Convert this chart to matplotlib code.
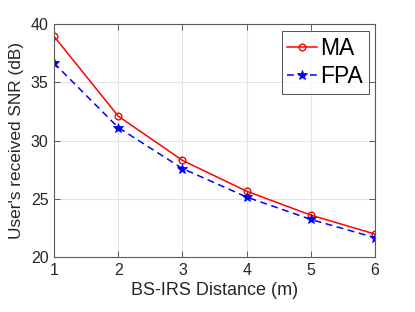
import matplotlib.pyplot as plt

# --- data ---
distance = [1, 2, 3, 4, 5, 6]
snr_ma = [38.95, 32.1, 28.3, 25.65, 23.6, 21.97]
snr_fpa = [36.65, 31.12, 27.6, 25.15, 23.23, 21.66]
xticks = [1, 2, 3, 4, 5, 6]
yticks = [20, 25, 30, 35, 40]

plt.rcParams['font.family'] = ['Liberation Sans', 'DejaVu Sans']

fig = plt.figure(figsize=(4.15, 3.12), dpi=100)
ax = fig.add_axes([0.130, 0.176, 0.774, 0.747])

ax.plot(distance, snr_ma, color='red', linestyle='-', linewidth=1.1,
        marker='o', markersize=4.8, markerfacecolor='none', markeredgewidth=1.0,
        label='MA')
ax.plot(distance, snr_fpa, color='blue', linestyle=(0, (4.5, 3)), linewidth=1.1,
        marker='*', markersize=7.5, markerfacecolor='blue', markeredgewidth=0.6,
        label='FPA')

ax.set_xlim(1, 6)
ax.set_ylim(20, 40)
ax.set_xticks(xticks)
ax.set_yticks(yticks)
ax.grid(True, color='#e3e3e3', linewidth=0.8)
ax.set_axisbelow(True)

grey = '#262626'
for s in ax.spines.values():
    s.set_color('#5a5a5a')
    s.set_linewidth(0.8)
ax.tick_params(direction='in', top=True, right=True, length=4, width=0.7,
               colors='#5a5a5a', labelcolor=grey, labelsize=11.5, pad=4)

ax.set_xlabel('BS-IRS Distance (m)', fontsize=13, color=grey, labelpad=3)
ax.set_ylabel("User's received SNR (dB)", fontsize=12.4, color=grey, labelpad=5)

leg = ax.legend(loc='upper right', fontsize=16.5, frameon=True, fancybox=False,
                edgecolor=grey, borderpad=0.25, labelspacing=0.22,
                handlelength=1.3, handletextpad=0.15, borderaxespad=0.0,
                bbox_to_anchor=(0.981, 0.970))
leg.get_frame().set_linewidth(0.7)

fig.savefig('out.png', dpi=100)
